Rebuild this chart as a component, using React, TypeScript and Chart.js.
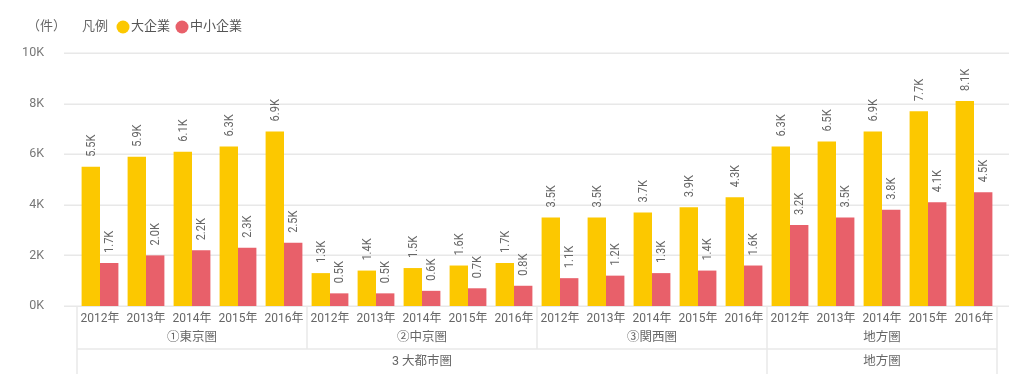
import React, { useEffect, useRef } from 'react';
import { Chart, registerables } from 'chart.js';

Chart.register(...registerables);

const years = ['2012年', '2013年', '2014年', '2015年', '2016年'];
const regions = ['①東京圏', '②中京圏', '③関西圏', '地方圏'];
const superGroups = ['3 大都市圏', '地方圏'];
const superSpans = [3, 1];
const seriesNames = ['大企業', '中小企業'];
const largeValues = [5500, 5900, 6100, 6300, 6900, 1300, 1400, 1500, 1600, 1700, 3500, 3500, 3700, 3900, 4300, 6300, 6500, 6900, 7700, 8100];
const smeValues = [1700, 2000, 2200, 2300, 2500, 500, 500, 600, 700, 800, 1100, 1200, 1300, 1400, 1600, 3200, 3500, 3800, 4100, 4500];
const yTickValues = [0, 2000, 4000, 6000, 8000, 10000];
const unitLabel = '（件）';
const legendTitle = '凡例';

const YELLOW = '#FCC800';
const RED = '#E8606A';
const TEXT = '#666666';
const LINE = '#E8E8E8';
const FONT = "Roboto, 'Noto Sans CJK JP', sans-serif";

const categories = regions.flatMap((r) => years.map((y) => `${r} ${y}`));

const customPlugin = {
  id: 'customDraw',
  beforeDatasetsDraw(chart: any) {
    const { ctx, chartArea, scales } = chart;
    const y = scales.y;
    ctx.save();
    ctx.strokeStyle = LINE;
    ctx.lineWidth = 1.5;
    for (const v of yTickValues) {
      const py = Math.round(y.getPixelForValue(v)) + 0.25;
      ctx.beginPath();
      ctx.moveTo(chartArea.left - 13, py);
      ctx.lineTo(chartArea.right + 12, py);
      ctx.stroke();
    }
    ctx.restore();
  },
  afterDatasetsDraw(chart: any) {
    const { ctx } = chart;
    chart.data.datasets.forEach((ds: any, di: number) => {
      const meta = chart.getDatasetMeta(di);
      meta.data.forEach((bar: any, i: number) => {
        const v = ds.data[i] as number;
        const text = (v / 1000).toFixed(1) + 'K';
        ctx.save();
        ctx.translate(bar.x + 1, bar.y - 10);
        ctx.rotate(-Math.PI / 2);
        ctx.scale(0.92, 1);
        ctx.font = `12px ${FONT}`;
        ctx.fillStyle = TEXT;
        ctx.textAlign = 'left';
        ctx.textBaseline = 'middle';
        ctx.fillText(text, 0, 0);
        ctx.restore();
      });
    });
  },
  afterDraw(chart: any) {
    const { ctx, chartArea, scales } = chart;
    const x = scales.x;
    const n = categories.length;
    const catW = (chartArea.right - chartArea.left) / n;
    ctx.save();
    // year labels
    ctx.font = `12px ${FONT}`;
    ctx.fillStyle = TEXT;
    ctx.textAlign = 'center';
    ctx.textBaseline = 'middle';
    for (let i = 0; i < n; i++) {
      ctx.fillText(years[i % years.length], x.getPixelForValue(i), 319);
    }
    // region labels
    ctx.font = `12.5px ${FONT}`;
    regions.forEach((r, g) => {
      const l = x.getPixelForValue(g * 5) - catW / 2;
      const rr = x.getPixelForValue(g * 5 + 4) + catW / 2;
      ctx.fillText(r, (l + rr) / 2, 338);
    });
    // super group labels
    let start = 0;
    const superBounds: number[] = [0];
    superGroups.forEach((s, k) => {
      const span = superSpans[k] * 5;
      const l = x.getPixelForValue(start) - catW / 2;
      const rr = x.getPixelForValue(start + span - 1) + catW / 2;
      ctx.fillText(s, (l + rr) / 2, 362);
      start += span;
      superBounds.push(start);
    });
    // lines
    ctx.strokeStyle = LINE;
    ctx.lineWidth = 1.5;
    for (let b = 0; b <= regions.length; b++) {
      const idx = b * 5;
      const px = Math.round(idx < n ? x.getPixelForValue(idx) - catW / 2 : x.getPixelForValue(n - 1) + catW / 2);
      const isSuper = superBounds.includes(idx);
      ctx.beginPath();
      ctx.moveTo(px, chartArea.bottom + 1);
      ctx.lineTo(px, isSuper ? 374 : 349);
      ctx.stroke();
    }
    ctx.beginPath();
    ctx.moveTo(chartArea.left, 349);
    ctx.lineTo(chartArea.right, 349);
    ctx.stroke();
    // legend
    ctx.font = `13px ${FONT}`;
    ctx.textAlign = 'left';
    ctx.fillStyle = TEXT;
    ctx.fillText(unitLabel, 27, 27);
    ctx.fillText(legendTitle, 82, 27);
    const colors = [YELLOW, RED];
    const dotX = [123, 182];
    seriesNames.forEach((s, k) => {
      ctx.fillStyle = colors[k];
      ctx.beginPath();
      ctx.arc(dotX[k], 27, 6.5, 0, Math.PI * 2);
      ctx.fill();
      ctx.fillStyle = '#555';
      ctx.fillText(s, dotX[k] + 8, 27);
    });
    ctx.restore();
  },
};

export default function App() {
  const ref = useRef<HTMLCanvasElement | null>(null);
  useEffect(() => {
    if (!ref.current) return;
    const chart = new Chart(ref.current, {
      type: 'bar',
      data: {
        labels: categories,
        datasets: [
          { label: seriesNames[0], data: largeValues, backgroundColor: YELLOW, categoryPercentage: 0.8, barPercentage: 1 },
          { label: seriesNames[1], data: smeValues, backgroundColor: RED, categoryPercentage: 0.8, barPercentage: 1 },
        ],
      },
      options: {
        responsive: false,
        animation: false,
        devicePixelRatio: 1,
        layout: { padding: { top: 53, right: 38, bottom: 0, left: 0 } },
        plugins: { legend: { display: false }, tooltip: { enabled: false } },
        scales: {
          x: {
            grid: { display: false },
            border: { display: false },
            ticks: { display: false },
            afterFit: (s: any) => { s.height = 80; },
          },
          y: {
            min: 0,
            max: 10000,
            grid: { display: false },
            border: { display: false },
            ticks: {
              stepSize: 2000,
              padding: 25,
              color: '#777',
              font: { family: FONT, size: 12.5 },
              callback: (v: any) => `${Number(v) / 1000}K`,
            },
            afterFit: (s: any) => { s.width = 77; },
          },
        },
      },
      plugins: [customPlugin],
    });
    return () => chart.destroy();
  }, []);
  return (
    <div style={{ position: 'fixed', left: 0, top: 0, width: 1035, height: 386, background: '#fff' }}>
      <canvas ref={ref} width={1035} height={386} style={{ width: 1035, height: 386 }} />
    </div>
  );
}
